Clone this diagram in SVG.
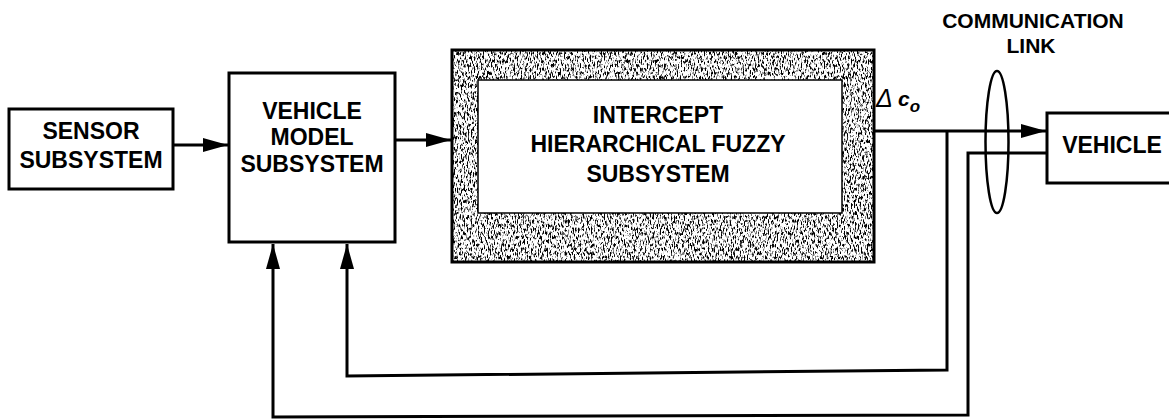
<svg xmlns="http://www.w3.org/2000/svg" width="1169" height="420" viewBox="0 0 1169 420">
<style>
.box{fill:#fff;stroke:#000;stroke-width:3}
.t{font-family:"Liberation Sans",Arial,sans-serif;font-weight:bold;font-size:23px;fill:#000;text-anchor:middle}
.ln{fill:none;stroke:#000;stroke-width:3}
</style>
<defs>
<marker id="ah" markerWidth="26" markerHeight="14" refX="25" refY="7" orient="auto" markerUnits="userSpaceOnUse">
<path d="M0,0 L25,7 L0,14 Z" fill="#000"/>
</marker>
<filter id="speck" x="0" y="0" width="1" height="1">
<feTurbulence type="fractalNoise" baseFrequency="0.7 0.25" numOctaves="3" seed="7" result="n"/>
<feColorMatrix in="n" type="matrix" values="0 0 0 0 0  0 0 0 0 0  0 0 0 0 0  6 0 0 0 -2.95" result="a"/>
<feComposite in="a" in2="SourceGraphic" operator="in"/>
</filter>
</defs>
<rect width="1169" height="420" fill="#fff"/>
<g id="sensor">
<rect class="box" x="9" y="109" width="164" height="80"/>
<text class="t" x="91" y="139">SENSOR</text>
<text class="t" x="91" y="168">SUBSYSTEM</text>
</g>
<g id="vehicle-model">
<rect class="box" x="229" y="73" width="166" height="169"/>
<text class="t" x="312" y="119">VEHICLE</text>
<text class="t" x="312" y="145">MODEL</text>
<text class="t" x="312" y="172">SUBSYSTEM</text>
</g>
<g id="intercept">
<rect x="452" y="50" width="422" height="212" fill="#fff"/>
<rect x="452" y="50" width="422" height="212" fill="#000" filter="url(#speck)"/>
<rect x="452" y="50" width="422" height="212" fill="none" stroke="#000" stroke-width="3"/>
<rect x="478" y="80" width="364" height="133" fill="#fff" stroke="#000" stroke-width="1.5"/>
<text class="t" x="658" y="123">INTERCEPT</text>
<text class="t" x="658" y="152">HIERARCHICAL FUZZY</text>
<text class="t" x="658" y="182">SUBSYSTEM</text>
</g>
<g id="vehicle">
<rect class="box" x="1047" y="113" width="130" height="70"/>
<text class="t" x="1112" y="153">VEHICLE</text>
</g>
<g id="comm-link">
<ellipse cx="997" cy="142" rx="11.5" ry="71" fill="none" stroke="#000" stroke-width="2.5"/>
<text class="t" x="1033" y="28" style="font-size:21px">COMMUNICATION</text>
<text class="t" x="1031" y="53" style="font-size:21px">LINK</text>
</g>
<g id="connectors">
<line class="ln" x1="173" y1="145" x2="228" y2="145" marker-end="url(#ah)"/>
<line class="ln" x1="395" y1="140" x2="451" y2="140" marker-end="url(#ah)"/>
<line class="ln" x1="874" y1="131" x2="1046" y2="131" marker-end="url(#ah)"/>
<polyline class="ln" points="947,131 947,370 347,376 347,244" marker-end="url(#ah)"/>
<polyline class="ln" points="1047,153 968,153 968,415 273,417 273,244" marker-end="url(#ah)"/>
</g>
<g id="label-dc">
<text x="876" y="107" style="font-family:'Liberation Sans',Arial,sans-serif;font-style:italic;font-size:25px">Δ</text>
<text x="898" y="106" style="font-family:'Liberation Sans',Arial,sans-serif;font-style:italic;font-weight:bold;font-size:21px">c<tspan dy="6" style="font-size:17px">o</tspan></text>
</g>
</svg>
